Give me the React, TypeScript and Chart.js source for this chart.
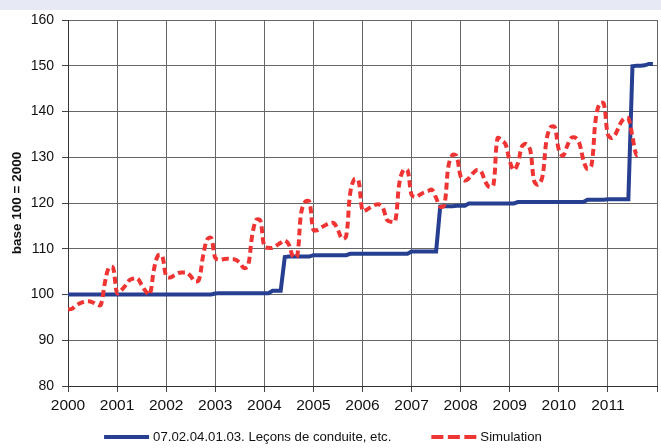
import React, { useEffect, useRef } from 'react';
import { Chart, registerables } from 'chart.js';

Chart.register(...registerables);

const startYear = 2000;
const yearTicks = [2000, 2001, 2002, 2003, 2004, 2005, 2006, 2007, 2008, 2009, 2010, 2011, 2012];
const yTicks = [80, 90, 100, 110, 120, 130, 140, 150, 160];
const seriesNames = ['07.02.04.01.03. Leçons de conduite, etc.', 'Simulation'];
const yTitle = 'base 100 = 2000';

// monthly values, Jan 2000 .. Dec 2011
const leconsValues = [
  100.0, 100.0, 100.0, 100.0, 100.0, 100.0, 100.0, 100.0, 100.0, 100.0, 100.0, 100.0,
  100.0, 100.0, 100.0, 100.0, 100.0, 100.0, 100.0, 100.0, 100.0, 100.0, 100.0, 100.0,
  100.0, 100.0, 100.0, 100.0, 100.0, 100.0, 100.0, 100.0, 100.0, 100.0, 100.0, 100.0,
  100.2, 100.3, 100.3, 100.3, 100.3, 100.3, 100.3, 100.3, 100.3, 100.3, 100.3, 100.3,
  100.3, 100.3, 100.8, 100.8, 100.8, 108.2, 108.3, 108.3, 108.3, 108.3, 108.3, 108.3,
  108.6, 108.6, 108.6, 108.6, 108.6, 108.6, 108.6, 108.6, 108.6, 108.9, 108.9, 108.9,
  108.9, 108.9, 108.9, 108.9, 108.9, 108.9, 108.9, 108.9, 108.9, 108.9, 108.9, 108.9,
  109.4, 109.4, 109.4, 109.4, 109.4, 109.4, 109.4, 119.2, 119.3, 119.3, 119.3, 119.4,
  119.4, 119.4, 119.9, 119.9, 119.9, 119.9, 119.9, 119.9, 119.9, 119.9, 119.9, 119.9,
  119.9, 119.9, 120.2, 120.2, 120.2, 120.2, 120.2, 120.2, 120.2, 120.2, 120.2, 120.2,
  120.2, 120.2, 120.2, 120.2, 120.2, 120.2, 120.2, 120.7, 120.7, 120.7, 120.7, 120.7,
  120.8, 120.8, 120.8, 120.8, 120.8, 120.8, 149.9, 150.0, 150.0, 150.1, 150.4, 150.4,
];

// monthly values, Jan 2000 .. Sep 2011
const simulationValues = [
  96.7, 96.9, 97.6, 98.1, 98.4, 98.5, 98.3, 97.9, 97.7, 102.5, 105.9, 105.9,
  100.3, 100.9, 101.9, 103.1, 103.5, 103.5, 102.1, 100.7, 100.0, 105.4, 108.5, 108.5,
  104.0, 103.7, 104.2, 104.7, 104.8, 104.8, 104.0, 102.9, 103.2, 108.3, 112.0, 112.4,
  108.0, 107.6, 107.7, 107.8, 107.7, 107.6, 106.9, 105.8, 106.2, 112.7, 116.3, 116.2,
  110.5, 110.2, 110.2, 110.7, 111.3, 111.8, 110.9, 108.3, 108.2, 117.8, 120.3, 120.3,
  114.1, 114.1, 114.7, 115.2, 115.6, 115.6, 114.1, 112.2, 112.7, 122.2, 125.2, 125.0,
  118.3, 118.5, 119.1, 119.6, 119.7, 118.9, 116.3, 115.9, 116.0, 124.3, 127.2, 127.2,
  121.8, 121.3, 121.8, 122.3, 122.6, 122.9, 121.1, 119.2, 119.5, 128.0, 130.5, 130.3,
  125.8, 124.9, 125.4, 126.5, 127.2, 126.9, 124.7, 123.5, 123.9, 134.2, 133.7, 132.8,
  129.1, 127.2, 128.7, 132.4, 132.9, 131.6, 124.7, 124.0, 125.8, 133.8, 136.6, 136.6,
  131.6, 130.3, 132.4, 134.2, 134.3, 133.1, 129.4, 127.4, 128.3, 138.2, 141.8, 141.7,
  134.9, 134.2, 135.3, 137.3, 138.5, 138.5, 134.5, 130.5, 130.8,
];

const toPoints = (values: number[]) => values.map((v, i) => ({ x: startYear + i / 12, y: v }));

const FONT = "'Liberation Sans', Arial, sans-serif";
const BLUE = '#263f91';
const RED = '#ef3434';

// legend drawn on the canvas below the axis
const legendPlugin = {
  id: 'bottomLegend',
  afterDraw(chart: any) {
    const ctx: CanvasRenderingContext2D = chart.ctx;
    const sampleW = 45;
    const textGap = 4;
    const itemGap = 40;
    const centerX = 323;
    const y = 437;
    ctx.save();
    ctx.font = `13.2px ${FONT}`;
    ctx.textBaseline = 'middle';
    ctx.textAlign = 'left';
    const items = chart.data.datasets.map((ds: any, i: number) => ({
      text: ds.label as string,
      color: ds.borderColor as string,
      dash: i === 1 ? [12, 4.5] : [],
      w: ctx.measureText(ds.label).width,
    }));
    const total =
      items.reduce((s: number, it: any) => s + sampleW + textGap + it.w, 0) + itemGap * (items.length - 1);
    let x = centerX - total / 2;
    for (const it of items) {
      ctx.beginPath();
      ctx.setLineDash(it.dash);
      ctx.lineWidth = 4;
      ctx.strokeStyle = it.color;
      ctx.lineCap = 'butt';
      ctx.moveTo(x, y);
      ctx.lineTo(x + sampleW, y);
      ctx.stroke();
      ctx.setLineDash([]);
      ctx.fillStyle = '#111';
      ctx.fillText(it.text, x + sampleW + textGap, y);
      x += sampleW + textGap + it.w + itemGap;
    }
    ctx.restore();
  },
};

export default function App() {
  const ref = useRef<HTMLCanvasElement | null>(null);

  useEffect(() => {
    if (!ref.current) return;
    const chart = new Chart(ref.current, {
      type: 'line',
      data: {
        datasets: [
          {
            label: seriesNames[0],
            data: toPoints(leconsValues),
            borderColor: BLUE,
            backgroundColor: BLUE,
            borderWidth: 4,
            pointRadius: 0,
            tension: 0,
            order: 2,
          },
          {
            label: seriesNames[1],
            data: toPoints(simulationValues),
            borderColor: RED,
            backgroundColor: RED,
            borderWidth: 4,
            borderDash: [7, 4],
            pointRadius: 0,
            tension: 0.35,
            order: 1,
          },
        ],
      },
      plugins: [legendPlugin],
      options: {
        responsive: false,
        animation: false,
        devicePixelRatio: 1,
        layout: { padding: { top: 20, right: 4, bottom: 30, left: 0 } },
        plugins: {
          tooltip: { enabled: false },
          legend: { display: false },
        },
        scales: {
          x: {
            type: 'linear',
            min: 2000,
            max: 2012,
            afterBuildTicks: (s: any) => {
              s.ticks = yearTicks.map((v) => ({ value: v }));
            },
            afterFit: (s: any) => {
              s.height = 32;
            },
            ticks: {
              autoSkip: false,
              maxRotation: 0,
              padding: 4,
              color: '#111',
              font: { family: FONT, size: 15.5 },
              callback: (v: any) => (Number(v) === 2012 ? '' : String(v)),
            },
            grid: { color: '#666', lineWidth: 1, tickLength: 6, tickColor: '#444' },
            border: { color: '#333', width: 1 },
          },
          y: {
            min: 80,
            max: 160,
            afterBuildTicks: (s: any) => {
              s.ticks = yTicks.map((v) => ({ value: v }));
            },
            afterFit: (s: any) => {
              s.width = 68;
            },
            ticks: {
              padding: 8,
              color: '#111',
              font: { family: FONT, size: 14 },
            },
            grid: { color: '#666', lineWidth: 1, tickLength: 6, tickColor: '#444' },
            border: { color: '#333', width: 1 },
            title: {
              display: true,
              text: yTitle,
              color: '#111',
              padding: { top: 9, bottom: 0 },
              font: { family: FONT, size: 13.5, weight: 'bold' },
            },
          },
        },
      },
    });
    return () => chart.destroy();
  }, []);

  return (
    <div
      style={{
        position: 'fixed',
        left: 0,
        top: 0,
        width: 661,
        height: 448,
        overflow: 'hidden',
        background: '#ffffff',
      }}
    >
      <div style={{ position: 'absolute', left: 0, top: 0, width: 661, height: 10, background: '#e7eaf4' }} />
      <canvas
        ref={ref}
        width={661}
        height={448}
        style={{ position: 'absolute', left: 0, top: 0, width: 661, height: 448 }}
      />
    </div>
  );
}
